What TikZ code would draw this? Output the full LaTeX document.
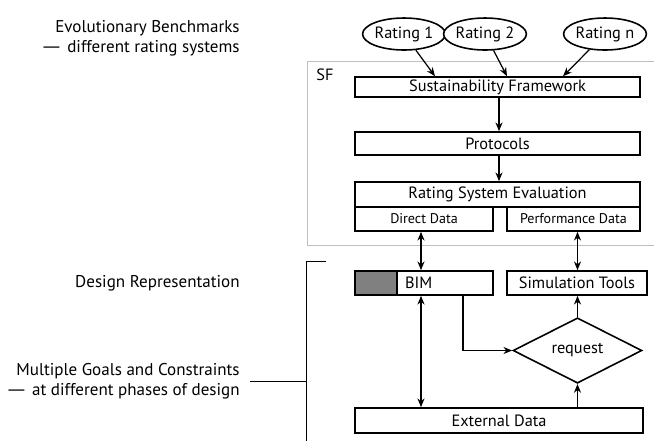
\documentclass[tikz,border=0pt]{standalone}
\usepackage{fontspec}
\setmainfont{PT Sans}
\usetikzlibrary{arrows.meta,shapes.geometric}
\definecolor{bimgray}{rgb}{0.5,0.5,0.5}
\definecolor{sfgray}{rgb}{0.75,0.75,0.75}
\newcommand{\longdash}{\scalebox{1.6}[1]{—}}

\begin{document}
\begin{tikzpicture}[x=0.02cm,y=-0.02cm,>={Stealth[length=5pt,width=4pt]},
  box/.style={draw,line width=0.9pt,inner sep=0pt,font=\fontsize{9.3}{11}\selectfont},
  small/.style={box,font=\fontsize{8}{9}\selectfont},
  rating/.style={draw,ellipse,fill=white,line width=0.9pt,inner sep=0pt,minimum width=1.6cm,minimum height=0.64cm,font=\fontsize{9.3}{11}\selectfont},
  side/.style={align=right,anchor=east,inner sep=0pt,font=\fontsize{9.7}{11.5}\selectfont}]
\useasboundingbox (0,0) rectangle (654,441);
% left hand labels
\node[side] (evo) at (240,38) {Evolutionary Benchmarks\\\longdash{} different rating systems};
\node[side] (rep) at (240,283) {Design Representation};
\node[side] (goals) at (240,381) {Multiple Goals and Constraints\\\longdash{} at different phases of design};
% SF frame
\draw[sfgray,line width=0.5pt] (654,61) -- (307,61) -- (307,245) -- (654,245);
\node[anchor=west,inner sep=0pt,font=\fontsize{9.3}{11}\selectfont] (sflabel) at (316,75) {SF};
% design bracket
\draw[line width=0.5pt] (326,261) -- (306,261) -- (306,441);
\draw[line width=0.5pt] (goals.east) ++(10,0) coordinate (gl) -- (gl -| 306,0);
% rating systems
\node[rating] (r1) at (404,34) {Rating 1};
\node[rating] (r2) at (485,34) {Rating 2};
\node[rating] (rn) at (605,34) {Rating n};
% framework boxes
\node[box,minimum width=5.7cm,minimum height=0.4cm] (sf) at (497.5,87) {Sustainability Framework};
\node[box,minimum width=5.7cm,minimum height=0.46cm] (prot) at (497.5,143.5) {Protocols};
\node[box,minimum width=5.7cm,minimum height=0.5cm] (rse) at (497.5,194.5) {Rating System Evaluation};
\node[small,minimum width=2.76cm,minimum height=0.48cm] (direct) at (424,219) {Direct Data};
\node[small,minimum width=2.66cm,minimum height=0.48cm] (perf) at (573.5,219) {Performance Data};
% design side
\fill[bimgray] (355,271) rectangle (397,295);
\draw[line width=0.9pt] (397,271) -- (397,295);
\node[box,minimum width=2.76cm,minimum height=0.48cm,text width=2.76cm,align=left] (bim) at (424,283) {\hspace*{1.0cm}BIM};
\node[box,minimum width=2.8cm,minimum height=0.48cm] (sim) at (577,283) {Simulation Tools};
\node[box,diamond,minimum width=2.58cm,minimum height=1.06cm] (req) at (577.5,350.5) {request};
\node[box,minimum width=5.76cm,minimum height=0.5cm] (ext) at (499,420.5) {External Data};
% connectors
\draw[->,line width=0.7pt] (r1) -- (sf.north -| 435,0);
\draw[->,line width=0.7pt] (r2) -- (sf.north -| 507,0);
\draw[->,line width=0.7pt] (rn) -- (sf.north -| 563,0);
\draw[->,line width=0.7pt] (sf.south -| 499,0) -- (prot.north -| 499,0);
\draw[->,line width=0.7pt] (prot.south -| 499,0) -- (rse.north -| 499,0);
\draw[<->,line width=0.7pt] (direct.south -| 421,0) -- (bim.north -| 421,0);
\draw[<->,line width=0.7pt] (perf.south -| req) -- (sim.north -| req);
\draw[<->,line width=0.7pt] (bim.south -| 421,0) -- (ext.north -| 421,0);
\coordinate (bimout) at (bim.south -| 463,0);
\draw[->,line width=0.7pt] (bimout) |- (req.west);
\draw[->,line width=0.7pt] (req.north) -- (sim.south -| req.north);
\draw[->,line width=0.7pt] (ext.north -| req.south) -- (req.south);
\end{tikzpicture}
\end{document}
